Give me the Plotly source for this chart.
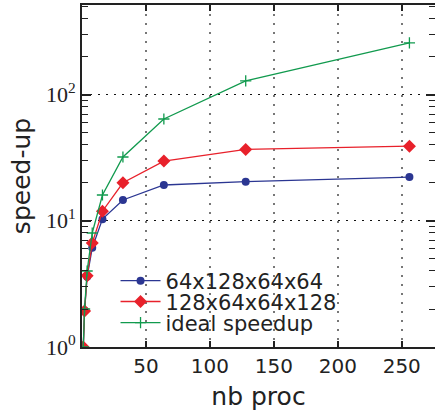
import plotly.graph_objects as go

nprocs = [1, 2, 4, 8, 16, 32, 64, 128, 256]
speedup_a = [1.0, 1.95, 3.6, 6.1, 10.3, 14.6, 19.2, 20.4, 22.2]
speedup_b = [1.0, 1.93, 3.67, 6.65, 11.9, 20.0, 29.7, 36.7, 39.0]
speedup_ideal = [1, 2, 4, 8, 16, 32, 64, 128, 256]
names = ["64x128x64x64", "128x64x64x128", "ideal speedup"]

x_ticks = [50, 100, 150, 200, 250]
y_ticks = [1, 10, 100]
y_ticktext = ["10<sup>0</sup>", "10<sup>1</sup>", "10<sup>2</sup>"]
y_minor = [m * 10 ** k for k in range(3) for m in range(2, 10) if m * 10 ** k <= 512]

BLUE = "#2b3692"
RED = "#e8212b"
GREEN = "#119a4e"

fig = go.Figure()
fig.add_trace(go.Scatter(
    x=nprocs, y=speedup_a, name=names[0], mode="lines+markers",
    line=dict(color=BLUE, width=1.3),
    marker=dict(symbol="circle", size=8, color=BLUE),
    legend="legend", showlegend=True,
))
fig.add_trace(go.Scatter(
    x=nprocs, y=speedup_b, name=names[1], mode="lines+markers",
    line=dict(color=RED, width=1.3),
    marker=dict(symbol="diamond", size=10, color=RED),
    legend="legend2", showlegend=True,
))
fig.add_trace(go.Scatter(
    x=nprocs, y=speedup_ideal, name=names[2], mode="lines+markers",
    line=dict(color=GREEN, width=1.3),
    marker=dict(symbol="cross-thin", size=8, color=GREEN,
                line=dict(color=GREEN, width=1.3)),
    legend="legend3", showlegend=True,
))

leg_common = dict(
    font=dict(family="DejaVu Sans", size=21, color="#222"),
    bgcolor="rgba(0,0,0,0)", xanchor="left", yanchor="middle",
    itemwidth=40, x=0.095,
)
fig.update_layout(
    width=435, height=415,
    margin=dict(l=82, r=0, t=5, b=68, autoexpand=False),
    paper_bgcolor="white", plot_bgcolor="white",
    showlegend=True,
    legend=dict(y=0.193, **leg_common),
    legend2=dict(y=0.132, **leg_common),
    legend3=dict(y=0.070, **leg_common),
    xaxis=dict(
        range=[0, 276], tickvals=x_ticks, automargin=False,
        tickfont=dict(family="DejaVu Sans", size=20, color="#222"),
        title=dict(text="nb proc", font=dict(family="DejaVu Sans", size=25, color="#222"), standoff=10),
        showline=True, linecolor="#222", linewidth=2, mirror="ticks",
        ticks="inside", ticklen=6, tickwidth=2, tickcolor="#222",
        showgrid=True, gridcolor="#777", gridwidth=1.5, griddash="2px,7px",
        zeroline=False,
    ),
    yaxis=dict(
        type="log", range=[0, 2.709], automargin=False,
        tickvals=y_ticks, ticktext=y_ticktext,
        tickfont=dict(family="Liberation Serif", size=22, color="#222"),
        title=dict(text="speed-up", font=dict(family="DejaVu Sans", size=25, color="#222"), standoff=8),
        showline=True, linecolor="#222", linewidth=2, mirror="ticks",
        ticks="inside", ticklen=9, tickwidth=1.5, tickcolor="#222",
        minor=dict(tickvals=y_minor, ticks="inside", ticklen=6, tickwidth=1.2,
                   tickcolor="#222", showgrid=False),
        showgrid=True, gridcolor="#111", gridwidth=1.2, griddash="2px,6px",
        zeroline=False,
    ),
)

fig.write_html("out.html", config={"displayModeBar": False},
               post_script="document.body.style.margin='0';")
